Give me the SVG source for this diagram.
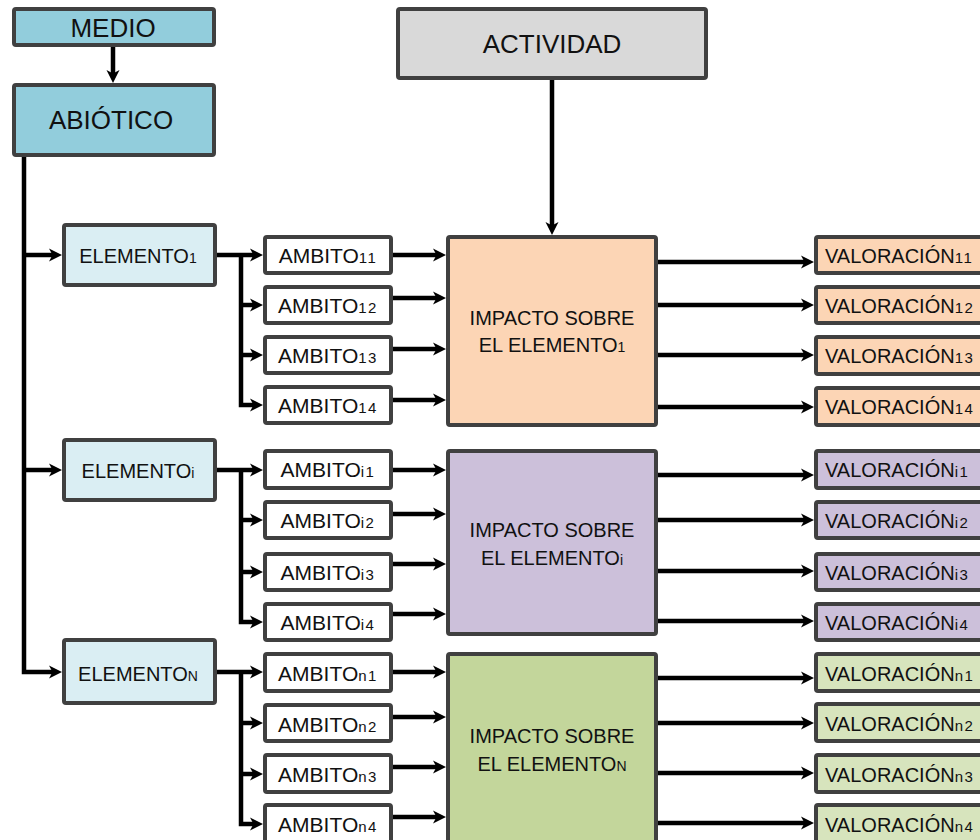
<svg xmlns="http://www.w3.org/2000/svg" width="980" height="840" viewBox="0 0 980 840">
<style>
  .box{stroke:#404040;stroke-width:4;}
  .medio{fill:#92CDDC;}
  .act{fill:#D9D9D9;}
  .elem{fill:#DAEEF3;}
  .amb{fill:#FFFFFF;}
  .org{fill:#FCD5B5;}
  .pur{fill:#CCC0DA;}
  .grn{fill:#C3D69B;}
  .grnl{fill:#D7E4BD;}
  text{font-family:"Liberation Sans",Arial,sans-serif;fill:#111111;}
  .t26{font-size:26px;text-anchor:middle;}
  .t19{font-size:20px;text-anchor:middle;}
  .t20{font-size:20px;text-anchor:middle;}
  .ta{font-size:21px;text-anchor:middle;}
  .tv{font-size:20px;}
  .s13{font-size:14px;}
  .s14{font-size:15px;letter-spacing:1.5px;}
  .c{fill:none;stroke:#000000;stroke-width:4.5;stroke-linejoin:miter;}
</style>
<defs>
  <marker id="ah" markerUnits="userSpaceOnUse" markerWidth="16" markerHeight="16" viewBox="0 -8 16 16" refX="5" refY="0" orient="auto">
    <path d="M0,-6.5 L13,0 L0,6.5 L3.5,0 Z" fill="#000000"/>
  </marker>
</defs>

<g id="connectors">
  <path class="c" d="M113,47 V75" marker-end="url(#ah)"/>
  <path class="c" d="M552,80 V227" marker-end="url(#ah)"/>
  <path class="c" d="M24,157 V672 H54" marker-end="url(#ah)"/>
  <path class="c" d="M24,255 H54" marker-end="url(#ah)"/>
  <path class="c" d="M24,470 H54" marker-end="url(#ah)"/>

  <path class="c" d="M217,255 H255" marker-end="url(#ah)"/>
  <path class="c" d="M241,255 V405 H255" marker-end="url(#ah)"/>
  <path class="c" d="M241,305 H255" marker-end="url(#ah)"/>
  <path class="c" d="M241,355 H255" marker-end="url(#ah)"/>

  <path class="c" d="M217,470 H255" marker-end="url(#ah)"/>
  <path class="c" d="M241,470 V622 H255" marker-end="url(#ah)"/>
  <path class="c" d="M241,520 H255" marker-end="url(#ah)"/>
  <path class="c" d="M241,572 H255" marker-end="url(#ah)"/>

  <path class="c" d="M217,672 H255" marker-end="url(#ah)"/>
  <path class="c" d="M241,672 V824 H255" marker-end="url(#ah)"/>
  <path class="c" d="M241,723 H255" marker-end="url(#ah)"/>
  <path class="c" d="M241,774 H255" marker-end="url(#ah)"/>

  <path class="c" d="M393,255 H438" marker-end="url(#ah)"/>
  <path class="c" d="M393,298 H438" marker-end="url(#ah)"/>
  <path class="c" d="M393,349 H438" marker-end="url(#ah)"/>
  <path class="c" d="M393,400 H438" marker-end="url(#ah)"/>
  <path class="c" d="M393,470 H438" marker-end="url(#ah)"/>
  <path class="c" d="M393,514 H438" marker-end="url(#ah)"/>
  <path class="c" d="M393,564 H438" marker-end="url(#ah)"/>
  <path class="c" d="M393,614 H438" marker-end="url(#ah)"/>
  <path class="c" d="M393,672 H438" marker-end="url(#ah)"/>
  <path class="c" d="M393,717 H438" marker-end="url(#ah)"/>
  <path class="c" d="M393,767 H438" marker-end="url(#ah)"/>
  <path class="c" d="M393,817 H438" marker-end="url(#ah)"/>

  <path class="c" d="M658,262 H806" marker-end="url(#ah)"/>
  <path class="c" d="M658,305 H806" marker-end="url(#ah)"/>
  <path class="c" d="M658,355 H806" marker-end="url(#ah)"/>
  <path class="c" d="M658,407 H806" marker-end="url(#ah)"/>
  <path class="c" d="M658,475 H806" marker-end="url(#ah)"/>
  <path class="c" d="M658,520 H806" marker-end="url(#ah)"/>
  <path class="c" d="M658,571 H806" marker-end="url(#ah)"/>
  <path class="c" d="M658,621 H806" marker-end="url(#ah)"/>
  <path class="c" d="M658,678 H806" marker-end="url(#ah)"/>
  <path class="c" d="M658,723 H806" marker-end="url(#ah)"/>
  <path class="c" d="M658,773 H806" marker-end="url(#ah)"/>
  <path class="c" d="M658,823 H806" marker-end="url(#ah)"/>
</g>

<g id="medio"><rect class="box medio" x="14" y="9" width="200" height="36" rx="2"/><text class="t26" x="113" y="37">MEDIO</text></g>
<g id="abiotico"><rect class="box medio" x="14" y="85" width="200" height="70" rx="2"/><text class="t26" x="111" y="129">ABIÓTICO</text></g>
<g id="actividad"><rect class="box act" x="398" y="9" width="308" height="69" rx="2"/><text class="t26" x="552" y="53">ACTIVIDAD</text></g>

<g id="elemento1"><rect class="box elem" x="64" y="225" width="151" height="60" rx="2"/><text class="t19" x="138" y="263">ELEMENTO<tspan class="s13">1</tspan></text></g>
<g id="elementoi"><rect class="box elem" x="64" y="440" width="151" height="60" rx="2"/><text class="t19" x="138" y="478">ELEMENTO<tspan class="s13">i</tspan></text></g>
<g id="elementon"><rect class="box elem" x="64" y="640" width="151" height="63" rx="2"/><text class="t19" x="138" y="681">ELEMENTO<tspan class="s13">N</tspan></text></g>

<g id="ambito11"><rect class="box amb" x="265" y="237" width="126" height="36" rx="2"/><text class="ta" x="328" y="263">AMBITO<tspan class="s14">11</tspan></text></g>
<g id="ambito12"><rect class="box amb" x="265" y="287" width="126" height="36" rx="2"/><text class="ta" x="328" y="313">AMBITO<tspan class="s14">12</tspan></text></g>
<g id="ambito13"><rect class="box amb" x="265" y="337" width="126" height="36" rx="2"/><text class="ta" x="328" y="363">AMBITO<tspan class="s14">13</tspan></text></g>
<g id="ambito14"><rect class="box amb" x="265" y="387" width="126" height="36" rx="2"/><text class="ta" x="328" y="413">AMBITO<tspan class="s14">14</tspan></text></g>

<g id="ambitoi1"><rect class="box amb" x="265" y="451" width="126" height="37" rx="2"/><text class="ta" x="328" y="477">AMBITO<tspan class="s14">i1</tspan></text></g>
<g id="ambitoi2"><rect class="box amb" x="265" y="502" width="126" height="36" rx="2"/><text class="ta" x="328" y="528">AMBITO<tspan class="s14">i2</tspan></text></g>
<g id="ambitoi3"><rect class="box amb" x="265" y="554" width="126" height="36" rx="2"/><text class="ta" x="328" y="580">AMBITO<tspan class="s14">i3</tspan></text></g>
<g id="ambitoi4"><rect class="box amb" x="265" y="604" width="126" height="36" rx="2"/><text class="ta" x="328" y="630">AMBITO<tspan class="s14">i4</tspan></text></g>

<g id="ambiton1"><rect class="box amb" x="265" y="654" width="126" height="37" rx="2"/><text class="ta" x="328" y="681">AMBITO<tspan class="s14">n1</tspan></text></g>
<g id="ambiton2"><rect class="box amb" x="265" y="705" width="126" height="36" rx="2"/><text class="ta" x="328" y="732">AMBITO<tspan class="s14">n2</tspan></text></g>
<g id="ambiton3"><rect class="box amb" x="265" y="755" width="126" height="37" rx="2"/><text class="ta" x="328" y="782">AMBITO<tspan class="s14">n3</tspan></text></g>
<g id="ambiton4"><rect class="box amb" x="265" y="805" width="126" height="37" rx="2"/><text class="ta" x="328" y="832">AMBITO<tspan class="s14">n4</tspan></text></g>

<g id="impacto1"><rect class="box org" x="448" y="237" width="208" height="188" rx="2"/><text class="t20" x="552" y="325">IMPACTO SOBRE</text><text class="t20" x="552" y="352">EL ELEMENTO<tspan class="s13">1</tspan></text></g>
<g id="impactoi"><rect class="box pur" x="448" y="451" width="208" height="183" rx="2"/><text class="t20" x="552" y="537">IMPACTO SOBRE</text><text class="t20" x="552" y="565">EL ELEMENTO<tspan class="s13">i</tspan></text></g>
<g id="impacton"><rect class="box grn" x="448" y="654" width="208" height="196" rx="2"/><text class="t20" x="552" y="743">IMPACTO SOBRE</text><text class="t20" x="552" y="771">EL ELEMENTO<tspan class="s13">N</tspan></text></g>

<g id="val11"><rect class="box org" x="816" y="237" width="200" height="36" rx="2"/><text class="tv" x="825" y="263">VALORACIÓN<tspan class="s14">11</tspan></text></g>
<g id="val12"><rect class="box org" x="816" y="287" width="200" height="36" rx="2"/><text class="tv" x="825" y="313">VALORACIÓN<tspan class="s14">12</tspan></text></g>
<g id="val13"><rect class="box org" x="816" y="337" width="200" height="37" rx="2"/><text class="tv" x="825" y="363">VALORACIÓN<tspan class="s14">13</tspan></text></g>
<g id="val14"><rect class="box org" x="816" y="388" width="200" height="37" rx="2"/><text class="tv" x="825" y="414">VALORACIÓN<tspan class="s14">14</tspan></text></g>

<g id="vali1"><rect class="box pur" x="816" y="451" width="200" height="37" rx="2"/><text class="tv" x="825" y="477">VALORACIÓN<tspan class="s14">i1</tspan></text></g>
<g id="vali2"><rect class="box pur" x="816" y="502" width="200" height="36" rx="2"/><text class="tv" x="825" y="528">VALORACIÓN<tspan class="s14">i2</tspan></text></g>
<g id="vali3"><rect class="box pur" x="816" y="554" width="200" height="36" rx="2"/><text class="tv" x="825" y="580">VALORACIÓN<tspan class="s14">i3</tspan></text></g>
<g id="vali4"><rect class="box pur" x="816" y="604" width="200" height="36" rx="2"/><text class="tv" x="825" y="630">VALORACIÓN<tspan class="s14">i4</tspan></text></g>

<g id="valn1"><rect class="box grnl" x="816" y="654" width="200" height="37" rx="2"/><text class="tv" x="825" y="681">VALORACIÓN<tspan class="s14">n1</tspan></text></g>
<g id="valn2"><rect class="box grnl" x="816" y="704" width="200" height="37" rx="2"/><text class="tv" x="825" y="731">VALORACIÓN<tspan class="s14">n2</tspan></text></g>
<g id="valn3"><rect class="box grnl" x="816" y="755" width="200" height="37" rx="2"/><text class="tv" x="825" y="782">VALORACIÓN<tspan class="s14">n3</tspan></text></g>
<g id="valn4"><rect class="box grnl" x="816" y="805" width="200" height="37" rx="2"/><text class="tv" x="825" y="832">VALORACIÓN<tspan class="s14">n4</tspan></text></g>
</svg>
